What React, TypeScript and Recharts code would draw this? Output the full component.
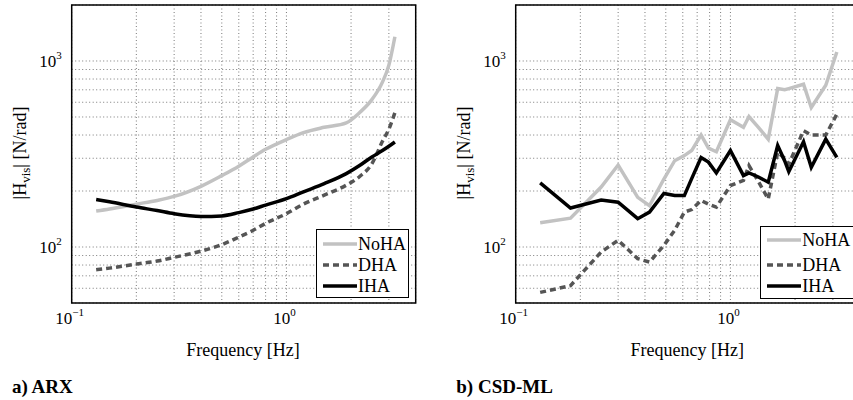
import React from "react";
import { LineChart, Line, XAxis, YAxis, CartesianGrid, ReferenceArea } from "recharts";

// a) ARX
const ARX_FREQ = [0.13, 0.15, 0.2, 0.25, 0.3, 0.4, 0.5, 0.6, 0.7, 0.8, 1.0, 1.2, 1.5, 1.9, 2.2, 2.5, 2.8, 3.0, 3.2];
const ARX_NOHA = [156, 160, 170, 178, 187, 212, 242, 272, 305, 335, 378, 412, 440, 465, 530, 620, 770, 950, 1350];
const ARX_DHA = [75.5, 77, 81, 84, 88, 95, 103, 113, 123, 134, 151, 170, 190, 215, 240, 280, 370, 430, 527];
const ARX_IHA = [180, 175, 164, 157, 151, 146, 147, 153, 160, 168, 182, 198, 219, 248, 275, 305, 330, 348, 367];

// b) CSD-ML
const CSD_FREQ = [0.13, 0.18, 0.25, 0.3, 0.37, 0.42, 0.49, 0.55, 0.61, 0.66, 0.73, 0.79, 0.86, 1.0, 1.15, 1.22, 1.35, 1.5, 1.66, 1.79, 1.87, 2.19, 2.38, 2.78, 3.13];
const CSD_NOHA = [135, 143, 210, 276, 185, 167, 232, 291, 310, 330, 400, 340, 325, 483, 440, 503, 440, 380, 711, 700, 710, 750, 562, 740, 1117];
const CSD_DHA = [57, 62, 94, 108.6, 86.6, 83, 102, 123, 154, 159, 178, 170, 164, 214, 228, 274, 225, 181, 323, 300, 279, 422, 400, 400, 518];
const CSD_IHA = [221, 162, 179, 174, 142, 154, 194, 189, 189, 233, 303, 286, 250, 330, 242, 250, 238, 223, 351, 290, 254, 368, 268, 380, 303];

const X_TICKS = [0.1, 0.2, 0.3, 0.4, 0.5, 0.6, 0.7, 0.8, 0.9, 1, 2, 3, 4];
const Y_TICKS = [50, 60, 70, 80, 90, 100, 200, 300, 400, 500, 600, 700, 800, 900, 1000, 2000];
const X_DECADES = [0.1, 1];
const X_EXPONENTS = ["\u22121", "0"];
const Y_DECADES = [100, 1000];
const Y_EXPONENTS = ["2", "3"];

const SERIES = [
  { key: "NoHA", color: "#c2c2c2", dash: undefined as string | undefined },
  { key: "DHA", color: "#555555", dash: "6 4" },
  { key: "IHA", color: "#000000", dash: undefined as string | undefined },
];

const FONT = "'Liberation Serif', 'Times New Roman', serif";

const buildRows = (freq: number[], noha: number[], dha: number[], iha: number[]) =>
  freq.map((f, i) => ({ f, NoHA: noha[i], DHA: dha[i], IHA: iha[i] }));

const arxData = buildRows(ARX_FREQ, ARX_NOHA, ARX_DHA, ARX_IHA);
const csdData = buildRows(CSD_FREQ, CSD_NOHA, CSD_DHA, CSD_IHA);

const XTick = (props: any) => {
  const { x, y, payload } = props;
  const i = X_DECADES.indexOf(payload.value);
  if (i < 0) return <g />;
  return (
    <text x={x - 2} y={y + 19} textAnchor="middle" fontSize={17} fontFamily={FONT} fill="#000">
      10<tspan dy={-8} fontSize={11}>{X_EXPONENTS[i]}</tspan>
    </text>
  );
};

const YTick = (props: any) => {
  const { x, y, payload } = props;
  const i = Y_DECADES.indexOf(payload.value);
  if (i < 0) return <g />;
  return (
    <text x={x - 8} y={y + 6} textAnchor="end" fontSize={17} fontFamily={FONT} fill="#000">
      10<tspan dy={-8} fontSize={11}>{Y_EXPONENTS[i]}</tspan>
    </text>
  );
};

type PanelProps = {
  data: any[];
  left: number;
  caption: string;
  smooth: boolean;
  legendTop: number;
  legendHeight: number;
  legendWidth: number;
  rowY: number[];
};

const Panel: React.FC<PanelProps> = ({ data, left, caption, smooth, legendTop, legendHeight, legendWidth, rowY }) => (
  <div style={{ position: "absolute", left, top: 0, width: 420, height: 400 }}>
    <LineChart width={420} height={400} data={data} margin={{ top: 5, right: 4.3, left: 0, bottom: 0 }}>
      <CartesianGrid stroke="#7a7a7a" strokeDasharray="1 2.5" />
      <XAxis
        dataKey="f"
        type="number"
        scale="log"
        domain={[0.1, 4]}
        ticks={X_TICKS}
        allowDataOverflow
        height={97}
        tickLine={false}
        tickSize={0}
        axisLine={false}
        tick={<XTick />}
        interval={0}
      />
      <YAxis
        type="number"
        scale="log"
        domain={[50, 2000]}
        ticks={Y_TICKS}
        allowDataOverflow
        width={71.7}
        tickLine={false}
        tickSize={0}
        axisLine={false}
        tick={<YTick />}
        interval={0}
      />
      <ReferenceArea x1={0.1} x2={4} y1={50} y2={2000} fill="none" stroke="#000" strokeWidth={1.5} />
      {SERIES.map((s) => (
        <Line
          key={s.key}
          dataKey={s.key}
          type={smooth ? "monotone" : "linear"}
          stroke={s.color}
          strokeWidth={3.5}
          strokeDasharray={s.dash}
          dot={false}
          isAnimationActive={false}
        />
      ))}
    </LineChart>

    <div
      style={{
        position: "absolute",
        left: 22,
        top: 153,
        transform: "translate(-50%, -50%) rotate(-90deg)",
        fontSize: 18,
        whiteSpace: "nowrap",
        fontFamily: FONT,
      }}
    >
      |H<sub style={{ fontSize: 13 }}>vis</sub>| [N/rad]
    </div>
    <div
      style={{
        position: "absolute",
        left: 243,
        top: 350,
        transform: "translate(-50%, -50%)",
        fontSize: 18,
        whiteSpace: "nowrap",
        fontFamily: FONT,
      }}
    >
      Frequency [Hz]
    </div>
    <div
      style={{
        position: "absolute",
        left: 12,
        top: 387,
        transform: "translateY(-50%)",
        fontSize: 19,
        fontWeight: "bold",
        whiteSpace: "nowrap",
        fontFamily: FONT,
      }}
    >
      {caption}
    </div>

    <div
      style={{
        position: "absolute",
        left: 316,
        top: legendTop,
        width: legendWidth,
        height: legendHeight,
        border: "1.5px solid #000",
        background: "#fff",
        boxSizing: "border-box",
      }}
    >
      {SERIES.map((s, i) => (
        <div key={s.key} style={{ position: "absolute", left: 0, top: rowY[i] - 11, height: 22, width: 120 }}>
          <svg width={40} height={22} style={{ position: "absolute", left: 4, top: 0 }}>
            <line x1={2} y1={11} x2={36} y2={11} stroke={s.color} strokeWidth={3.5} strokeDasharray={s.dash} />
          </svg>
          <span
            style={{
              position: "absolute",
              left: 41,
              top: 0,
              lineHeight: "22px",
              fontSize: 18,
              fontFamily: FONT,
              whiteSpace: "nowrap",
            }}
          >
            {s.key}
          </span>
        </div>
      ))}
    </div>
  </div>
);

export default function App() {
  return (
    <div
      style={{
        position: "fixed",
        left: 0,
        top: 0,
        width: 853,
        height: 400,
        overflow: "hidden",
        background: "#fff",
        fontFamily: FONT,
      }}
    >
      <Panel data={arxData} left={0} caption="a) ARX" smooth legendTop={229} legendHeight={69} legendWidth={93} rowY={[14, 35, 56]} />
      <Panel data={csdData} left={444.3} caption="b) CSD-ML" smooth={false} legendTop={226} legendHeight={73} legendWidth={110} rowY={[13, 38, 59]} />
    </div>
  );
}
